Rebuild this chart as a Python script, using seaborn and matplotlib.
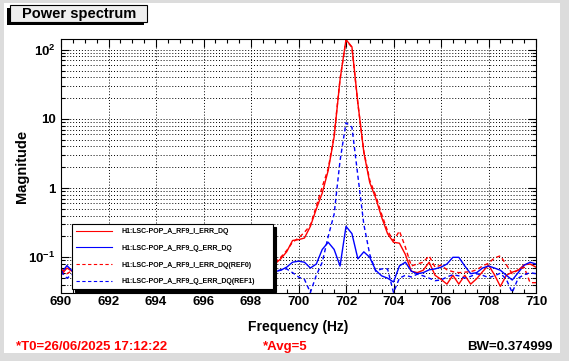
import numpy as np
import pandas as pd
import seaborn as sns
from matplotlib import pyplot as plt
from matplotlib.patches import Rectangle
from matplotlib.ticker import MultipleLocator, LogLocator, FuncFormatter, NullFormatter

plt.rcParams.update({
    'font.family': ['Liberation Sans', 'DejaVu Sans'],
    'font.weight': 'bold',
    'axes.labelweight': 'bold',
    'mathtext.fontset': 'custom',
    'mathtext.rm': 'Liberation Sans:bold',
    'mathtext.it': 'Liberation Sans:bold',
    'mathtext.bf': 'Liberation Sans:bold',
})

# FFT bins, 0.25 Hz apart (BW = 1.5 * df for the Hanning window)
freq = np.linspace(690, 710, 81)

channels = ['H1:LSC-POP_A_RF9_I_ERR_DQ', 'H1:LSC-POP_A_RF9_Q_ERR_DQ',
            'H1:LSC-POP_A_RF9_I_ERR_DQ(REF0)', 'H1:LSC-POP_A_RF9_Q_ERR_DQ(REF1)']

i_err = [0.055, 0.070, 0.062, 0.058, 0.066, 0.060, 0.054, 0.063, 0.070, 0.061,
         0.056, 0.064, 0.058, 0.052, 0.060, 0.067, 0.059, 0.053, 0.061, 0.068,
         0.062, 0.055, 0.060, 0.066, 0.071, 0.063, 0.057, 0.062, 0.069, 0.064,
         0.058, 0.063, 0.070, 0.066, 0.072, 0.076, 0.080, 0.095, 0.120, 0.175,
         0.180, 0.190, 0.280, 0.500, 0.850, 1.80, 5.5, 37.0, 140.0, 110.0,
         17.0, 3.3, 1.20, 0.72, 0.38, 0.22, 0.165, 0.160, 0.110, 0.063,
         0.060, 0.065, 0.085, 0.055, 0.048, 0.041, 0.055, 0.041, 0.055, 0.041,
         0.049, 0.062, 0.077, 0.056, 0.038, 0.055, 0.061, 0.065, 0.078, 0.080,
         0.072]

q_err = [0.058, 0.076, 0.062, 0.055, 0.060, 0.066, 0.059, 0.053, 0.058, 0.064,
         0.070, 0.063, 0.057, 0.061, 0.067, 0.062, 0.056, 0.060, 0.065, 0.059,
         0.054, 0.060, 0.066, 0.061, 0.057, 0.062, 0.068, 0.064, 0.058, 0.055,
         0.061, 0.066, 0.060, 0.056, 0.059, 0.061, 0.062, 0.065, 0.072, 0.085,
         0.088, 0.085, 0.070, 0.080, 0.130, 0.165, 0.130, 0.075, 0.280, 0.220,
         0.095, 0.120, 0.100, 0.065, 0.054, 0.050, 0.044, 0.075, 0.085, 0.063,
         0.058, 0.060, 0.066, 0.068, 0.072, 0.080, 0.100, 0.100, 0.075, 0.058,
         0.060, 0.070, 0.075, 0.070, 0.065, 0.055, 0.047, 0.060, 0.077, 0.085,
         0.080]

i_ref = [0.068, 0.058, 0.065, 0.060, 0.055, 0.063, 0.069, 0.061, 0.057, 0.064,
         0.060, 0.054, 0.062, 0.066, 0.050, 0.044, 0.038, 0.032, 0.045, 0.058,
         0.063, 0.059, 0.065, 0.060, 0.056, 0.062, 0.068, 0.061, 0.057, 0.063,
         0.067, 0.060, 0.064, 0.070, 0.066, 0.072, 0.085, 0.100, 0.125, 0.165,
         0.190, 0.230, 0.290, 0.55, 1.05, 1.9, 5.8, 38.0, 138.0, 108.0,
         16.5, 3.4, 1.30, 0.78, 0.42, 0.24, 0.175, 0.240, 0.140, 0.075,
         0.080, 0.085, 0.105, 0.072, 0.077, 0.066, 0.062, 0.060, 0.061, 0.062,
         0.066, 0.075, 0.082, 0.098, 0.105, 0.078, 0.058, 0.066, 0.072, 0.043,
         0.043]

q_ref = [0.062, 0.050, 0.057, 0.063, 0.058, 0.052, 0.060, 0.065, 0.059, 0.053,
         0.057, 0.062, 0.066, 0.060, 0.055, 0.061, 0.058, 0.052, 0.045, 0.038,
         0.031, 0.044, 0.056, 0.062, 0.058, 0.053, 0.059, 0.064, 0.060, 0.055,
         0.058, 0.063, 0.067, 0.061, 0.056, 0.060, 0.062, 0.066, 0.068, 0.060,
         0.052, 0.048, 0.031, 0.055, 0.085, 0.200, 0.420, 2.50, 8.8, 7.6,
         1.50, 0.30, 0.110, 0.063, 0.068, 0.068, 0.031, 0.050, 0.055, 0.052,
         0.057, 0.054, 0.050, 0.046, 0.047, 0.052, 0.056, 0.054, 0.050, 0.053,
         0.058, 0.055, 0.051, 0.054, 0.059, 0.048, 0.031, 0.050, 0.056, 0.060,
         0.058]

footer = ['*T0=26/06/2025 17:12:22', '*Avg=5', 'BW=0.374999']

df = pd.concat([pd.DataFrame({'freq': freq, 'mag': vals, 'channel': ch})
                for ch, vals in zip(channels, [i_err, q_err, i_ref, q_ref])])

palette = dict(zip(channels, ['#ff0000', '#0000ff', '#ff0000', '#0000ff']))
dashes = dict(zip(channels, ['', '', (3, 2.2), (3, 2.2)]))

W, H = 569, 361
fig = plt.figure(figsize=(W / 100, H / 100), dpi=100, facecolor='#dcdcdc')
fig.patches.append(Rectangle((4 / W, 1 - 353 / H), 556 / W, 350 / H, transform=fig.transFigure,
                             facecolor='white', edgecolor='none', zorder=-5))

ax = fig.add_axes([61 / W, 1 - 293 / H, 475 / W, 254 / H])
sns.lineplot(data=df, x='freq', y='mag', hue='channel', style='channel', palette=palette,
             dashes=dashes, estimator=None, sort=False, lw=1.0, ax=ax)

ax.set_yscale('log')
ax.set_xlim(690, 710)
ax.set_ylim(0.0305, 143)

ax.xaxis.set_major_locator(MultipleLocator(2))
ax.xaxis.set_minor_locator(MultipleLocator(0.5))
ax.yaxis.set_major_locator(LogLocator(base=10, numticks=10))
ax.yaxis.set_minor_locator(LogLocator(base=10, subs=np.arange(2, 10), numticks=20))
ax.yaxis.set_minor_formatter(NullFormatter())


def log_label(v, pos):
    e = int(round(np.log10(v)))
    if e in (0, 1):
        return str(int(10 ** e))
    return r'$10^{%d}$' % e


ax.yaxis.set_major_formatter(FuncFormatter(log_label))
ax.tick_params(which='both', direction='in', top=True, right=True, width=0.8, labelsize=9.5)
ax.tick_params(which='major', length=6)
ax.tick_params(which='minor', length=3)
ax.tick_params(axis='x', pad=2.5)
ax.tick_params(axis='y', pad=4)
for s in ax.spines.values():
    s.set_linewidth(0.8)

ax.grid(True, which='major', axis='x', color='k', ls=(0, (1, 2)), lw=0.7)
ax.grid(True, which='both', axis='y', color='k', ls=(0, (1, 2)), lw=0.7)

ax.set_xlabel('Frequency (Hz)', fontsize=10)
ax.xaxis.set_label_coords(0.5, -0.108)
ax.set_ylabel('Magnitude', fontsize=10.5)
ax.yaxis.set_label_coords(-0.068, 0.5)

handles, labels = ax.get_legend_handles_labels()
leg = ax.legend(handles, labels, loc='upper left', bbox_to_anchor=(0.0232, 0, 0.4232, 0.2717),
                mode='expand', borderaxespad=0, fontsize=5, frameon=True, fancybox=False,
                edgecolor='black', framealpha=1, shadow={'color': 'black', 'alpha': 1},
                borderpad=0.6, handlelength=5.2, handletextpad=1.3, labelspacing=1.4)
leg.get_frame().set_linewidth(0.8)
for h in leg.get_lines():
    h.set_linewidth(0.8)

# title pave with shadow
fig.patches.append(Rectangle((7 / W, 1 - 25 / H), 137 / W, 17 / H, transform=fig.transFigure,
                             facecolor='black', edgecolor='none', zorder=1))
fig.patches.append(Rectangle((10 / W, 1 - 22 / H), 137 / W, 17 / H, transform=fig.transFigure,
                             facecolor='#eeeeee', edgecolor='black', lw=0.8, zorder=2))
fig.text(22 / W, 1 - 14 / H, 'Power spectrum', fontsize=10.5, va='center', ha='left', zorder=3)

fig.text(16 / W, 1 - 347 / H, footer[0], color='red', fontsize=9.5, va='center', ha='left')
fig.text(263 / W, 1 - 347 / H, footer[1], color='red', fontsize=9.5, va='center', ha='left')
fig.text(552 / W, 1 - 347 / H, footer[2], color='black', fontsize=9.5, va='center', ha='right')

fig.savefig('out.png', dpi=100, facecolor=fig.get_facecolor())
